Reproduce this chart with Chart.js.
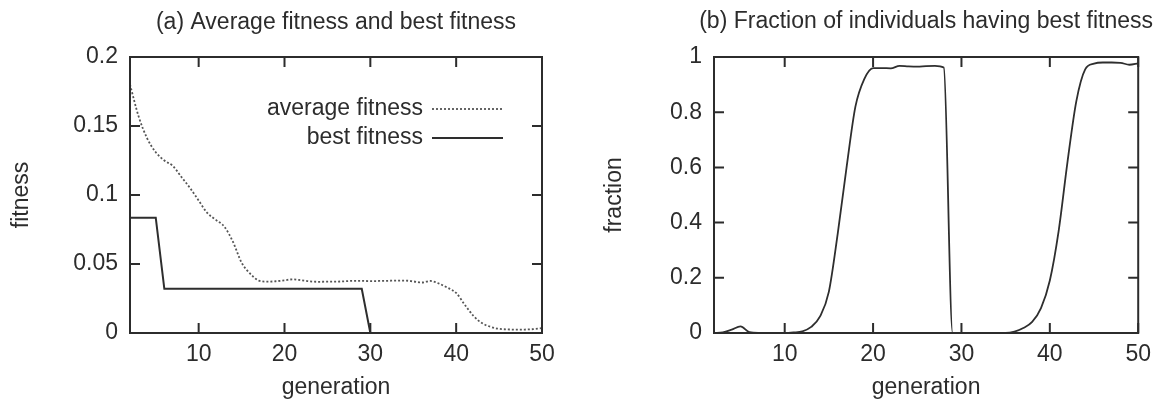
<!DOCTYPE html>
<html>
<head>
<meta charset="utf-8">
<script src="https://cdn.jsdelivr.net/npm/chart.js@4.4.1/dist/chart.umd.min.js"></script>
<style>
  body { margin: 0; background: #fff; }
  #wrap { position: relative; width: 1159px; height: 405px; }
  canvas { position: absolute; top: 0; }
  #fitness-chart { left: 0; }
  #fraction-chart { left: 580px; }
</style>
</head>
<body>
<div id="wrap">
  <canvas id="fitness-chart" width="580" height="405"></canvas>
  <canvas id="fraction-chart" width="579" height="405"></canvas>
</div>
<script>
const generations = [2, 3, 4, 5, 6, 7, 8, 9, 10, 11, 12, 13, 14, 15, 16, 17, 18, 19, 20, 21,
    22, 23, 24, 25, 26, 27, 28, 29, 30, 31, 32, 33, 34, 35, 36, 37, 38, 39, 40, 41,
    42, 43, 44, 45, 46, 47, 48, 49, 50];

const averageFitness = [0.180, 0.157, 0.141, 0.131, 0.125, 0.121, 0.113, 0.105, 0.096, 0.087,
    0.082, 0.077, 0.066, 0.051, 0.043, 0.038, 0.0372, 0.0375, 0.0382, 0.0389,
    0.0382, 0.0374, 0.0371, 0.0372, 0.0372, 0.0375, 0.0378, 0.0378, 0.0376, 0.0377,
    0.0378, 0.0380, 0.0380, 0.0374, 0.0366, 0.0377, 0.0358, 0.0328, 0.0290, 0.0205,
    0.0125, 0.0072, 0.0045, 0.0030, 0.0026, 0.0024, 0.0025, 0.0028, 0.0035];

const bestFitness = [0.0836, 0.0836, 0.0836, 0.0836, 0.032, 0.032, 0.032, 0.032, 0.032, 0.032,
    0.032, 0.032, 0.032, 0.032, 0.032, 0.032, 0.032, 0.032, 0.032, 0.032,
    0.032, 0.032, 0.032, 0.032, 0.032, 0.032, 0.032, 0.032, 0, 0,
    0, 0, 0, 0, 0, 0, 0, 0, 0, 0,
    0, 0, 0, 0, 0, 0, 0, 0, 0];

const bestFraction = [0, 0.002, 0.012, 0.024, 0.003, 0, 0, 0, 0, 0.002,
    0.006, 0.022, 0.06, 0.15, 0.36, 0.6, 0.82, 0.92, 0.96, 0.96,
    0.959, 0.968, 0.966, 0.965, 0.967, 0.968, 0.962, 0, 0, 0,
    0, 0, 0, 0, 0.005, 0.018, 0.04, 0.09, 0.19, 0.37,
    0.62, 0.84, 0.955, 0.976, 0.98, 0.98, 0.979, 0.972, 0.977];

const genTicks = [10, 20, 30, 40, 50];
const fitnessTicks = [0, 0.05, 0.1, 0.15, 0.2];
const fractionTicks = [0, 0.2, 0.4, 0.6, 0.8, 1];

const ink = '#2c2c2c';
const fontFamily = '"Liberation Sans", Arial, sans-serif';
Chart.defaults.font.family = fontFamily;
Chart.defaults.font.size = 23;
Chart.defaults.color = ink;

const points = (values) => generations.map((g, i) => ({x: g, y: values[i]}));

// title centred over the plot box, not the canvas
const panelTitle = {
    id: 'panelTitle',
    afterDraw(chart, args, opts) {
        const {ctx, chartArea} = chart;
        ctx.save();
        ctx.font = `23px ${fontFamily}`;
        ctx.fillStyle = ink;
        ctx.textAlign = 'center';
        ctx.textBaseline = 'middle';
        ctx.fillText(opts.text, (chartArea.left + chartArea.right) / 2, opts.y);
        ctx.restore();
    }
};

// closed box with inward ticks on all four sides
const frame = {
    id: 'frame',
    afterDatasetsDraw(chart) {
        const {ctx, chartArea: {left, right, top, bottom}, scales: {x, y}} = chart;
        const len = 10;
        ctx.save();
        ctx.strokeStyle = ink;
        ctx.lineWidth = 2;
        ctx.beginPath();
        x.ticks.forEach(t => {
            const px = x.getPixelForValue(t.value);
            ctx.moveTo(px, bottom); ctx.lineTo(px, bottom - len);
            ctx.moveTo(px, top); ctx.lineTo(px, top + len);
        });
        y.ticks.forEach(t => {
            const py = y.getPixelForValue(t.value);
            ctx.moveTo(left, py); ctx.lineTo(left + len, py);
            ctx.moveTo(right, py); ctx.lineTo(right - len, py);
        });
        ctx.stroke();
        ctx.strokeRect(left, top, right - left, bottom - top);
        ctx.restore();
    }
};

// key: label text first, then a sample of the line
const lineKey = {
    id: 'lineKey',
    afterDatasetsDraw(chart) {
        const {ctx, chartArea} = chart;
        const lineEnd = chartArea.right - 39;
        const lineStart = lineEnd - 71;
        ctx.save();
        ctx.font = `23px ${fontFamily}`;
        ctx.fillStyle = ink;
        ctx.textAlign = 'right';
        ctx.textBaseline = 'middle';
        chart.data.datasets.forEach((ds, i) => {
            const yy = chartArea.top + 52 + i * 29;
            ctx.fillText(ds.label, lineStart - 9, yy);
            ctx.save();
            ctx.strokeStyle = ds.borderColor;
            ctx.lineWidth = ds.borderWidth;
            ctx.setLineDash(ds.borderDash || []);
            ctx.beginPath();
            ctx.moveTo(lineStart, yy);
            ctx.lineTo(lineEnd, yy);
            ctx.stroke();
            ctx.restore();
        });
        ctx.restore();
    }
};

const genAxis = () => ({
    type: 'linear',
    min: 2,
    max: 50,
    afterBuildTicks: s => { s.ticks = genTicks.map(v => ({value: v})); },
    afterFit: s => { s.height = 72; },
    grid: {display: false, drawTicks: false},
    border: {display: false},
    ticks: {padding: 8, maxRotation: 0, autoSkip: false, callback: v => String(v)},
    title: {display: true, text: 'generation', padding: {top: 0, bottom: 4}}
});

const valueAxis = (ticks, max, width, titleText, titlePad) => ({
    type: 'linear',
    min: 0,
    max: max,
    afterBuildTicks: s => { s.ticks = ticks.map(v => ({value: v})); },
    afterFit: s => { s.width = width; },
    grid: {display: false, drawTicks: false},
    border: {display: false},
    ticks: {padding: 12, autoSkip: false, callback: v => String(v)},
    title: {display: true, text: titleText, padding: {top: titlePad, bottom: 0}}
});

new Chart(document.getElementById('fitness-chart'), {
    type: 'line',
    data: {
        datasets: [{
            label: 'average fitness',
            data: points(averageFitness),
            borderColor: '#555555',
            borderWidth: 1.8,
            borderDash: [2, 2],
            pointRadius: 0,
            cubicInterpolationMode: 'monotone'
        }, {
            label: 'best fitness',
            data: points(bestFitness),
            borderColor: '#2e2e2e',
            borderWidth: 2,
            pointRadius: 0,
            tension: 0
        }]
    },
    options: {
        responsive: false,
        animation: false,
        layout: {padding: {top: 57, right: 38, bottom: 0, left: 0}},
        scales: {
            x: genAxis(),
            y: valueAxis(fitnessTicks, 0.2, 130, 'fitness', 8)
        },
        plugins: {
            legend: {display: false},
            tooltip: {enabled: false},
            panelTitle: {text: '(a) Average fitness and best fitness', y: 23}
        }
    },
    plugins: [panelTitle, frame, lineKey]
});

new Chart(document.getElementById('fraction-chart'), {
    type: 'line',
    data: {
        datasets: [{
            label: 'fraction',
            data: points(bestFraction),
            borderColor: '#2e2e2e',
            borderWidth: 1.8,
            pointRadius: 0,
            cubicInterpolationMode: 'monotone'
        }]
    },
    options: {
        responsive: false,
        animation: false,
        layout: {padding: {top: 57, right: 19, bottom: 0, left: 0}},
        scales: {
            x: genAxis(),
            y: valueAxis(fractionTicks, 1, 134, 'fraction', 21)
        },
        plugins: {
            legend: {display: false},
            tooltip: {enabled: false},
            panelTitle: {text: '(b) Fraction of individuals having best fitness', y: 22}
        }
    },
    plugins: [panelTitle, frame]
});
</script>
</body>
</html>
